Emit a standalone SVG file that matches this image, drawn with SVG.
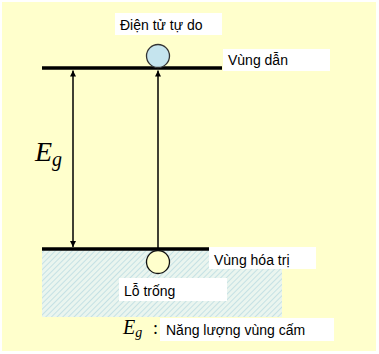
<svg xmlns="http://www.w3.org/2000/svg" width="379" height="354" viewBox="0 0 379 354">
<defs>
<style>
.lbl{font-family:"Liberation Sans",Arial,sans-serif;font-size:14px;fill:#000}
.box{fill:#fff}
.band{stroke:#000;stroke-width:3.5}
.arr{stroke:#000;stroke-width:1.5;fill:none}
.math{font-family:"Liberation Serif","DejaVu Serif",serif;font-style:italic;fill:#000}
</style>
<pattern id="hatch" width="4" height="4" patternUnits="userSpaceOnUse" patternTransform="rotate(45)">
<rect width="4" height="4" fill="#EAF5EF"/>
<line x1="0" y1="0" x2="0" y2="4" stroke="#BCDCE2" stroke-width="1.6"/>
</pattern>
<marker id="ah" viewBox="0 0 10 10" refX="10" refY="5" markerWidth="6" markerHeight="7" markerUnits="userSpaceOnUse" orient="auto-start-reverse">
<path d="M0,0 L10,5 L0,10 z" fill="#000"/>
</marker>
</defs>
<rect x="2" y="2" width="374" height="349" fill="#FFFFCC"/>
<rect x="42" y="250" width="240" height="67" fill="url(#hatch)"/>
<g id="connectors">
<line class="arr" x1="73" y1="70.5" x2="73" y2="247" marker-start="url(#ah)" marker-end="url(#ah)"/>
<line class="arr" x1="158" y1="248" x2="158" y2="70.5" marker-end="url(#ah)"/>
</g>
<g id="conduction-band">
<line class="band" x1="42" y1="68" x2="222" y2="68"/>
<rect class="box" x="223" y="49" width="107" height="22"/>
<text class="lbl" x="228" y="65">Vùng dẫn</text>
</g>
<g id="valence-band">
<line class="band" x1="42" y1="249" x2="210" y2="249"/>
<rect class="box" x="209" y="247" width="107" height="22"/>
<text class="lbl" x="214" y="265">Vùng hóa trị</text>
</g>
<g id="electron">
<circle cx="158" cy="56" r="11.5" fill="#C5E4EE" stroke="#333" stroke-width="1.3"/>
<rect class="box" x="115" y="13" width="107" height="22"/>
<text class="lbl" x="120" y="30">Điện tử tự do</text>
</g>
<g id="hole">
<circle cx="158" cy="262" r="11.5" fill="#FFFFCC" stroke="#111" stroke-width="1.3"/>
<rect class="box" x="119" y="278" width="108" height="23"/>
<text class="lbl" x="124" y="296">Lỗ trống</text>
</g>
<g id="eg-label">
<text class="math" x="35" y="161" font-size="28">E<tspan font-size="20" dy="5">g</tspan></text>
</g>
<g id="legend">
<text class="math" x="123" y="334" font-size="20">E<tspan font-size="14" dy="3">g</tspan></text>
<text x="153" y="334" font-family="Liberation Serif,serif" font-size="18" fill="#000">:</text>
<rect class="box" x="160" y="318" width="174" height="23"/>
<text class="lbl" x="166" y="335">Năng lượng vùng cấm</text>
</g>
</svg>
